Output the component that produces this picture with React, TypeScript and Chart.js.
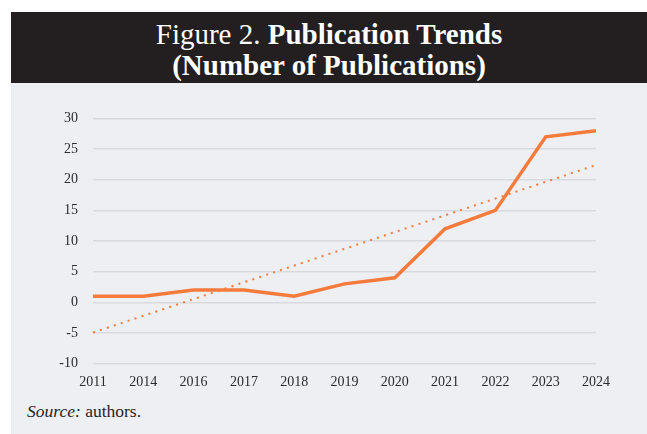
import React, { useEffect, useRef } from "react";
import { Chart, registerables } from "chart.js";

Chart.register(...registerables);

const years = ["2011", "2014", "2016", "2017", "2018", "2019", "2020", "2021", "2022", "2023", "2024"];
const publications = [1, 1, 2, 2, 1, 3, 4, 12, 15, 27, 28];
const trend = [-4.95, null, null, null, null, null, null, null, null, null, 22.4];
const yMin = -10;
const yMax = 30;
const yStep = 5;

const ORANGE = "#f47b3b";
const SERIF = "'Liberation Serif', 'DejaVu Serif', serif";

export default function App() {
  const ref = useRef<HTMLCanvasElement | null>(null);

  useEffect(() => {
    document.body.style.margin = "0";
    const ctx = ref.current;
    if (!ctx) return;
    const chart = new Chart(ctx, {
      type: "line",
      data: {
        labels: years,
        datasets: [
          {
            label: "Publications",
            data: publications,
            borderColor: ORANGE,
            borderWidth: 3.5,
            pointRadius: 0,
            tension: 0,
            fill: false,
          },
          {
            label: "Trend",
            data: trend as any,
            borderColor: ORANGE,
            borderWidth: 2,
            borderDash: [2, 5.3],
            borderCapStyle: "butt",
            pointRadius: 0,
            spanGaps: true,
            tension: 0,
            fill: false,
          },
        ],
      },
      options: {
        animation: false,
        responsive: false,
        maintainAspectRatio: false,
        layout: { padding: { top: 35.5, right: 51, bottom: 0, left: 0 } },
        plugins: {
          legend: { display: false },
          title: { display: false },
          tooltip: { enabled: false },
        },
        scales: {
          x: {
            offset: false,
            grid: { display: false, drawTicks: false },
            border: { display: false },
            ticks: {
              padding: 10,
              color: "#2b2b2b",
              font: { family: SERIF, size: 14 },
              maxRotation: 0,
              autoSkip: false,
            },
            afterFit: (s: any) => {
              s.height = 29.5;
            },
          },
          y: {
            min: yMin,
            max: yMax,
            grid: { color: "#d9dadf", lineWidth: 1.5, drawTicks: false },
            border: { display: false },
            ticks: {
              stepSize: yStep,
              padding: 15,
              color: "#2b2b2b",
              font: { family: SERIF, size: 14 },
            },
            afterFit: (s: any) => {
              s.width = 82;
            },
          },
        },
      },
    });
    return () => chart.destroy();
  }, []);

  return (
    <div style={{ position: "relative", width: 647, height: 434, background: "#ffffff", overflow: "hidden" }}>
      <div
        style={{
          position: "absolute",
          left: 11,
          top: 12,
          width: 636,
          height: 71,
          background: "#231f20",
          color: "#ffffff",
          fontFamily: SERIF,
          fontSize: 29,
          lineHeight: "31px",
          textAlign: "center",
          boxSizing: "border-box",
          paddingTop: 7,
          whiteSpace: "nowrap",
        }}
      >
        <div>
          Figure 2. <b>Publication Trends</b>
        </div>
        <div>
          <b>(Number of Publications)</b>
        </div>
      </div>
      <div
        style={{
          position: "absolute",
          left: 11,
          top: 83,
          width: 636,
          height: 351,
          background: "#eeeff3",
        }}
      >
        <canvas ref={ref} width={636} height={310} style={{ display: "block", width: 636, height: 310 }} />
        <div
          style={{
            position: "absolute",
            left: 16,
            top: 318,
            fontFamily: SERIF,
            fontSize: 17.5,
            color: "#1f1f1f",
            whiteSpace: "nowrap",
          }}
        >
          <i>Source:</i> authors.
        </div>
      </div>
    </div>
  );
}
